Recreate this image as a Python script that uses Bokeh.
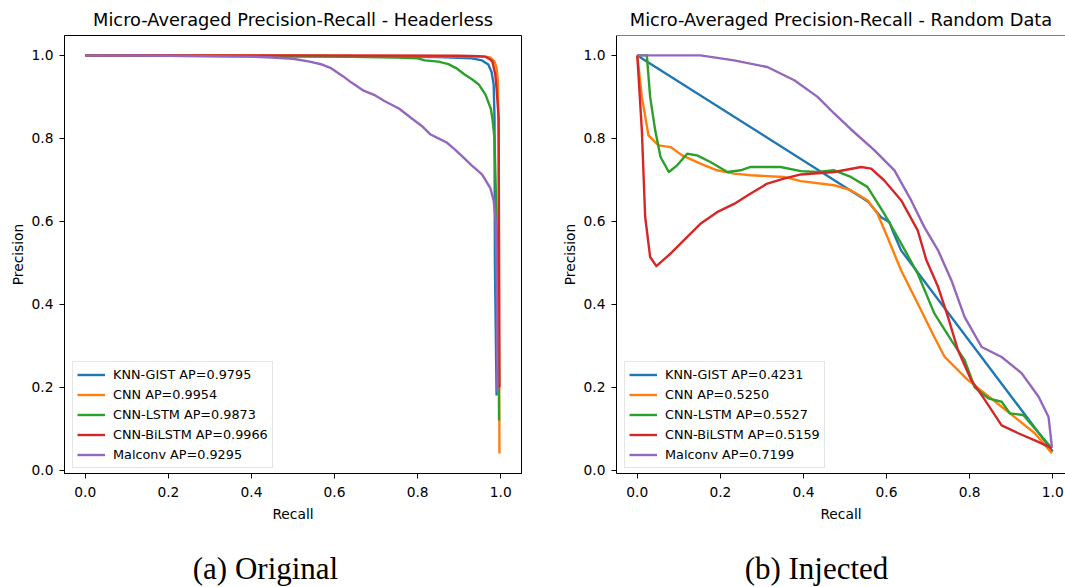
from bokeh.plotting import figure
from bokeh.models import (Range1d, FixedTicker, PrintfTickFormatter, Legend,
                          LegendItem, Span)
from bokeh.core.properties import value
from bokeh.layouts import row, column
from bokeh.embed import file_html
from bokeh.resources import INLINE

# ---------------- data ----------------
models = ["KNN-GIST", "CNN", "CNN-LSTM", "CNN-BiLSTM", "Malconv"]
colors = ["#1f77b4", "#ff7f0e", "#2ca02c", "#d62728", "#9467bd"]
ticks = [0.0, 0.2, 0.4, 0.6, 0.8, 1.0]

ap_orig = [0.9795, 0.9954, 0.9873, 0.9966, 0.9295]
ap_inj = [0.4231, 0.5250, 0.5527, 0.5159, 0.7199]

# (a) Original / Headerless
knn_r_a = [0.0, 0.30, 0.60, 0.85, 0.93, 0.955, 0.97, 0.978, 0.983, 0.985, 0.986, 0.99]
knn_p_a = [1.0, 0.999, 0.998, 0.996, 0.993, 0.988, 0.978, 0.96, 0.93, 0.85, 0.5, 0.18]
cnn_r_a = [0.0, 0.5, 0.9, 0.96, 0.975, 0.985, 0.99, 0.993, 0.995, 0.996, 0.997]
cnn_p_a = [1.0, 0.999, 0.998, 0.997, 0.995, 0.985, 0.97, 0.94, 0.8, 0.3, 0.04]
lstm_r_a = [0.0, 0.4, 0.6, 0.75, 0.80, 0.817, 0.85, 0.874, 0.895, 0.913, 0.93, 0.947,
            0.963, 0.976, 0.98, 0.985, 0.99, 0.995, 0.996]
lstm_p_a = [1.0, 0.998, 0.997, 0.995, 0.993, 0.988, 0.985, 0.979, 0.968, 0.954, 0.943, 0.93,
            0.906, 0.872, 0.848, 0.8, 0.6, 0.3, 0.12]
bilstm_r_a = [0.0, 0.5, 0.9, 0.947, 0.963, 0.975, 0.98, 0.987, 0.99, 0.995, 0.996, 0.997]
bilstm_p_a = [1.0, 1.0, 0.999, 0.998, 0.997, 0.99, 0.985, 0.954, 0.92, 0.85, 0.5, 0.2]
mal_r_a = [0.0, 0.2, 0.4, 0.45, 0.5, 0.54, 0.57, 0.59, 0.62, 0.64, 0.67, 0.695, 0.72,
           0.755, 0.79, 0.81, 0.83, 0.85, 0.87, 0.89, 0.91, 0.93, 0.955, 0.975, 0.983,
           0.988, 0.991, 0.992]
mal_p_a = [1.0, 0.999, 0.997, 0.995, 0.992, 0.985, 0.978, 0.97, 0.95, 0.935, 0.915, 0.905,
           0.89, 0.872, 0.845, 0.83, 0.81, 0.8, 0.79, 0.773, 0.754, 0.735, 0.713, 0.68,
           0.65, 0.6, 0.4, 0.19]

# (b) Injected / Random Data
knn_r_b = [0.0, 0.555, 0.587, 0.607, 0.616, 0.635, 1.0]
knn_p_b = [1.0, 0.648, 0.61, 0.598, 0.574, 0.53, 0.045]
cnn_r_b = [0.0, 0.011, 0.027, 0.051, 0.08, 0.108, 0.152, 0.192, 0.233, 0.273, 0.353, 0.394,
           0.474, 0.514, 0.554, 0.578, 0.602, 0.635, 0.675, 0.715, 0.74, 0.796, 0.877,
           0.957, 0.998]
cnn_p_b = [1.0, 0.9, 0.807, 0.783, 0.779, 0.759, 0.739, 0.723, 0.715, 0.711, 0.707, 0.697,
           0.687, 0.675, 0.651, 0.619, 0.562, 0.482, 0.402, 0.321, 0.273, 0.217, 0.153,
           0.089, 0.041]
lstm_r_b = [0.0, 0.023, 0.031, 0.043, 0.056, 0.076, 0.096, 0.12, 0.144, 0.176, 0.217, 0.249,
            0.273, 0.345, 0.394, 0.434, 0.474, 0.514, 0.554, 0.594, 0.635, 0.675, 0.715,
            0.756, 0.788, 0.812, 0.845, 0.877, 0.897, 0.929, 0.998]
lstm_p_b = [1.0, 1.0, 0.9, 0.82, 0.755, 0.719, 0.735, 0.763, 0.759, 0.743, 0.719, 0.723,
            0.731, 0.731, 0.721, 0.719, 0.723, 0.707, 0.683, 0.619, 0.547, 0.474, 0.378,
            0.313, 0.265, 0.2, 0.173, 0.165, 0.137, 0.133, 0.053]
bilstm_r_b = [0.0, 0.011, 0.019, 0.031, 0.046, 0.08, 0.112, 0.152, 0.192, 0.233, 0.273,
              0.313, 0.353, 0.394, 0.474, 0.539, 0.563, 0.594, 0.635, 0.675, 0.696, 0.724,
              0.748, 0.772, 0.804, 0.837, 0.877, 0.917, 0.957, 0.998]
bilstm_p_b = [1.0, 0.82, 0.611, 0.514, 0.492, 0.522, 0.554, 0.594, 0.622, 0.642, 0.667,
              0.691, 0.703, 0.713, 0.719, 0.731, 0.727, 0.699, 0.651, 0.578, 0.506, 0.442,
              0.369, 0.289, 0.217, 0.169, 0.108, 0.089, 0.072, 0.053]
mal_r_b = [0.0, 0.152, 0.233, 0.313, 0.378, 0.434, 0.474, 0.514, 0.571, 0.619, 0.659,
           0.691, 0.724, 0.756, 0.788, 0.829, 0.877, 0.925, 0.966, 0.99, 0.998]
mal_p_b = [1.0, 1.0, 0.988, 0.972, 0.94, 0.9, 0.86, 0.822, 0.771, 0.723, 0.651, 0.586,
           0.53, 0.458, 0.369, 0.297, 0.273, 0.234, 0.177, 0.128, 0.056]

recalls_a = [knn_r_a, cnn_r_a, lstm_r_a, bilstm_r_a, mal_r_a]
precs_a = [knn_p_a, cnn_p_a, lstm_p_a, bilstm_p_a, mal_p_a]
recalls_b = [knn_r_b, cnn_r_b, lstm_r_b, bilstm_r_b, mal_r_b]
precs_b = [knn_p_b, cnn_p_b, lstm_p_b, bilstm_p_b, mal_p_b]

captions = ["(a) Original", "(b) Injected"]

FONT = "DejaVu Sans"
PLOT_H = 542
CAP_H = 45
W1, W2 = 548, 517
FRAME_W = 457
PX_PER_UNIT = FRAME_W / 1.1


def make_panel(title, recalls, precs, aps, width, b_left, b_right, x_end,
               title_offset, full_outline):
    p = figure(width=width, height=PLOT_H,
               x_range=Range1d(-0.05, x_end), y_range=Range1d(-0.008, 1.048),
               output_backend="svg", toolbar_location=None,
               min_border_left=b_left, min_border_right=b_right,
               min_border_top=35, min_border_bottom=PLOT_H - 35 - 438)
    p.title.text = title
    p.title.text_font = FONT
    p.title.text_font_size = "17.8px"
    p.title.text_font_style = "normal"
    p.title.text_color = "black"
    p.title.align = "center"
    p.title.offset = title_offset
    p.title.standoff = 11
    p.xgrid.visible = False
    p.ygrid.visible = False
    p.background_fill_color = "white"
    p.border_fill_color = "white"
    if full_outline:
        p.outline_line_color = "black"
        p.outline_line_width = 1
    else:
        p.outline_line_color = None
        p.add_layout(Span(location=1.048, dimension="width",
                          line_color="black", line_width=1))

    for ax in p.axis:
        ax.ticker = FixedTicker(ticks=ticks)
        ax.formatter = PrintfTickFormatter(format="%.1f")
        ax.axis_line_color = "black"
        ax.axis_line_width = 1
        ax.major_tick_line_color = "black"
        ax.major_tick_out = 5
        ax.major_tick_in = 0
        ax.minor_tick_line_color = None
        ax.major_label_text_font = FONT
        ax.major_label_text_font_size = "13.8px"
        ax.major_label_text_color = "black"
        ax.axis_label_text_font = FONT
        ax.axis_label_text_font_size = "13.8px"
        ax.axis_label_text_font_style = "normal"
        ax.axis_label_text_color = "black"
    p.xaxis.major_label_standoff = 8
    p.xaxis.axis_label_standoff = 6
    p.yaxis.major_label_standoff = 6
    p.yaxis.axis_label_standoff = 3
    p.xaxis.axis_label = "Recall"
    p.yaxis.axis_label = "Precision"

    items = []
    for name, col, r, pr, ap in zip(models, colors, recalls, precs, aps):
        rend = p.line(r, pr, line_color=col, line_width=2.4, line_join="round")
        items.append(LegendItem(label=f"{name} AP={ap:.4f}", renderers=[rend]))

    leg = Legend(items=items, location=(8, 5))
    leg.label_text_font = FONT
    leg.label_text_font_size = "12.8px"
    leg.label_text_color = "black"
    leg.glyph_width = 28
    leg.glyph_height = 17
    leg.label_height = 17
    leg.spacing = 3
    leg.padding = 4
    leg.margin = 0
    leg.label_standoff = 8
    leg.border_line_color = "#cccccc"
    leg.border_line_width = 1
    leg.background_fill_color = "white"
    leg.background_fill_alpha = 0.8
    p.add_layout(leg)
    return p


def make_caption(text, width, cx):
    c = figure(width=width, height=CAP_H, x_range=Range1d(0, width),
               y_range=Range1d(0, CAP_H), output_backend="svg",
               toolbar_location=None, x_axis_type=None, y_axis_type=None,
               min_border=0)
    c.outline_line_color = None
    c.background_fill_color = "white"
    c.border_fill_color = "white"
    c.text(x=[cx], y=[CAP_H - 26], text=[text],
           text_font=value("Liberation Serif"), text_font_size="31px",
           text_color="black", text_align="center", text_baseline="middle")
    return c


p1 = make_panel("Micro-Averaged Precision-Recall - Headerless", recalls_a, precs_a,
                ap_orig, W1, 64, W1 - 64 - FRAME_W, 1.05, 0, True)
frame2 = W2 - 68
x_end_b = -0.05 + frame2 / PX_PER_UNIT
p2 = make_panel("Micro-Averaged Precision-Recall - Random Data", recalls_b, precs_b,
                ap_inj, W2, 68, 0, x_end_b, 5, False)

c1 = make_caption(captions[0], W1, 265)
c2 = make_caption(captions[1], W2, 816 - W1)

layout = column(row(p1, p2), row(c1, c2))
open("out.html", "w").write(file_html(layout, INLINE))
